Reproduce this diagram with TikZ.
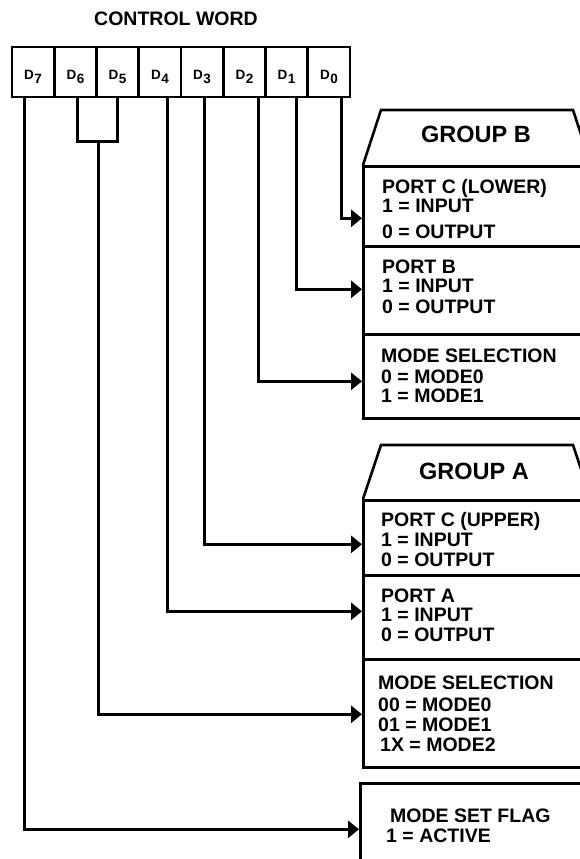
\documentclass[tikz,border=0pt]{standalone}
\usepackage{fontspec}
\setmainfont{Liberation Sans}
\usetikzlibrary{arrows.meta,calc}
\begin{document}
\begin{tikzpicture}[x=1pt,y=-1pt,
  cell/.style={draw, line width=2.6pt, minimum width=42.25pt, minimum height=50pt,
    inner sep=0pt, text height=15pt, text depth=0pt, font=\bfseries\fontsize{13.5}{13.5}\selectfont},
  conn/.style={line width=3pt},
  arr/.style={conn, -{Triangle[length=11pt,width=17pt]}},
  sect/.style={draw, line width=2.6pt, minimum width=278pt, inner sep=0pt, anchor=north west},
  trap/.style={line width=2.6pt},
  txt/.style={anchor=base west, inner sep=0pt, font=\bfseries\fontsize{19.5}{19.5}\selectfont},
  grp/.style={anchor=base, inner sep=0pt, font=\bfseries\fontsize{23.5}{23.5}\selectfont},
  ttl/.style={anchor=base, inner sep=0pt, font=\bfseries\fontsize{19.5}{19.5}\selectfont}]
\useasboundingbox (0,0) rectangle (580,859);
\clip (0,0) rectangle (580,859);

% title
\node[ttl] (title) at (176,26) {CONTROL WORD};

% control word cells
\node[cell] (c7) at (33.1,72) {D\kern0.5pt\raisebox{-4pt}{7}};
\node[cell] (c6) at (75.4,72) {D\kern0.5pt\raisebox{-4pt}{6}};
\node[cell] (c5) at (117.6,72) {D\kern0.5pt\raisebox{-4pt}{5}};
\node[cell] (c4) at (159.9,72) {D\kern0.5pt\raisebox{-4pt}{4}};
\node[cell] (c3) at (202.1,72) {D\kern0.5pt\raisebox{-4pt}{3}};
\node[cell] (c2) at (244.4,72) {D\kern0.5pt\raisebox{-4pt}{2}};
\node[cell] (c1) at (286.6,72) {D\kern0.5pt\raisebox{-4pt}{1}};
\node[cell] (c0) at (328.9,72) {D\kern0.5pt\raisebox{-4pt}{0}};

% connector starting points
\coordinate (s7) at (24,97);
\coordinate (s6) at (77,97);
\coordinate (s5) at (117,97);
\coordinate (bm) at (98,141);
\coordinate (s4) at (167,97);
\coordinate (s3) at (204,97);
\coordinate (s2) at (258,97);
\coordinate (s1) at (296,97);
\coordinate (s0) at (341,97);

% Group B
\draw[trap] (363,165) -- (381,110) -- (573,110) -- (591,165);
\node[grp] (gb) at (476,142) {GROUP B};
\node[sect, minimum height=80pt] (pcl) at (362,165) {};
\node[sect, minimum height=88pt] (pb) at (362,245) {};
\node[sect, minimum height=84pt] (msb) at (362,333) {};

\node[txt] (t1) at (382,193) {PORT C (LOWER)};
\node[txt] (t2) at (382,212) {1 = INPUT};
\node[txt] (t3) at (382,238) {0 = OUTPUT};
\node[txt] (t4) at (382,273) {PORT B};
\node[txt] (t5) at (382,292) {1 = INPUT};
\node[txt] (t6) at (382,313) {0 = OUTPUT};
\node[txt] (t7) at (381,362) {MODE SELECTION};
\node[txt] (t8) at (381,383) {0 = MODE0};
\node[txt] (t9) at (381,402) {1 = MODE1};

% Group A
\draw[trap] (363,499) -- (381,445) -- (573,445) -- (591,499);
\node[grp] (ga) at (474,479) {GROUP A};
\node[sect, minimum height=75pt] (pcu) at (362,499) {};
\node[sect, minimum height=84pt] (pa) at (362,574) {};
\node[sect, minimum height=108pt] (msa) at (362,658) {};

\node[txt] (u1) at (381,526) {PORT C (UPPER)};
\node[txt] (u2) at (381,546) {1 = INPUT};
\node[txt] (u3) at (381,566) {0 = OUTPUT};
\node[txt] (u4) at (381,602) {PORT A};
\node[txt] (u5) at (381,621) {1 = INPUT};
\node[txt] (u6) at (381,641) {0 = OUTPUT};
\node[txt] (u7) at (378,689) {MODE SELECTION};
\node[txt] (u8) at (378,711) {00 = MODE0};
\node[txt] (u9) at (378,731) {01 = MODE1};
\node[txt] (u10) at (380,751) {1X = MODE2};

% Mode set flag
\node[sect, minimum height=118pt] (msf) at (359,782) {};
\node[txt] (f1) at (390,822) {MODE SET FLAG};
\node[txt] (f2) at (386,842) {1 = ACTIVE};

% connectors
\draw[conn] (s6) |- (bm) -| (s5);
\draw[arr] (s7) |- ([yshift=13pt]msf.west);
\draw[arr] (bm) |- ([yshift=-1pt]msa.west);
\draw[arr] (s4) |- ([yshift=6pt]pa.west);
\draw[arr] (s3) |- ([yshift=-6.5pt]pcu.west);
\draw[arr] (s2) |- ([yshift=-5pt]msb.west);
\draw[arr] (s1) |- ([yshift=1pt]pb.west);
\draw[arr] (s0) |- ([yshift=-12pt]pcl.west);
\end{tikzpicture}
\end{document}
